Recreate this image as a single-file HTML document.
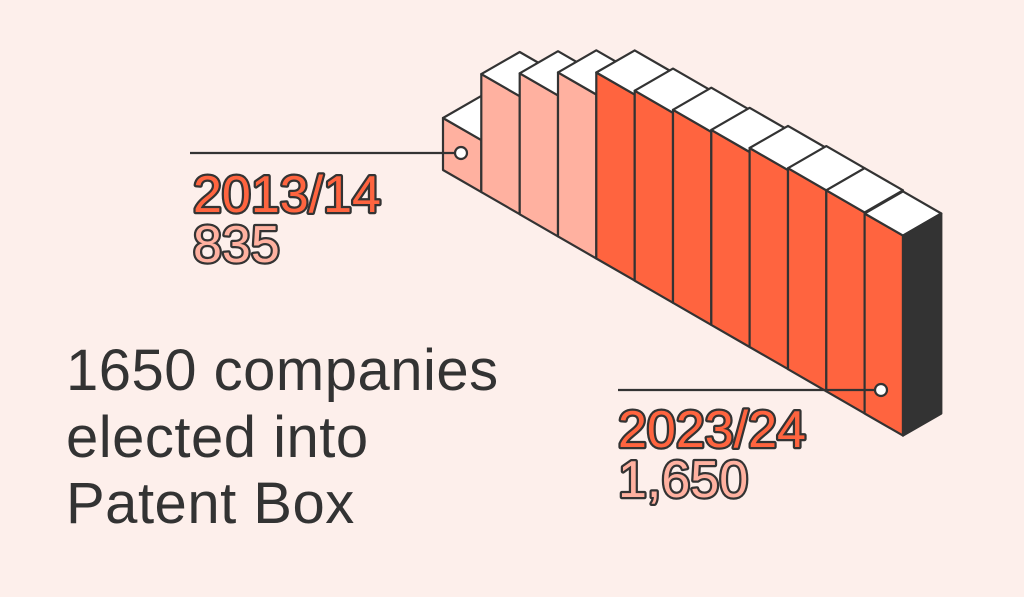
<!DOCTYPE html>
<html><head><meta charset="utf-8"><style>
html,body{margin:0;padding:0;background:#fdefeb;}
svg{display:block}
</style></head><body>
<svg width="1024" height="597" viewBox="0 0 1024 597" xmlns="http://www.w3.org/2000/svg">
<rect width="1024" height="597" fill="#fdefeb"/>
<g stroke="#333" stroke-width="2.2" stroke-linejoin="round">
<polygon fill="#ffb1a0" points="443,118 481.3,140.1 481.3,192.1 443,170"/><polygon fill="#fff" points="443,118 481.3,140.1 519.7,118 481.3,95.9"/>
<polygon fill="#ffb1a0" points="481.3,74.1 519.7,96.2 519.7,214.2 481.3,192.1"/><polygon fill="#fff" points="481.3,74.1 519.7,96.2 558,74.1 519.7,52"/>
<polygon fill="#ffb1a0" points="519.7,73.3 558,95.4 558,236.4 519.7,214.3"/><polygon fill="#fff" points="519.7,73.3 558,95.4 596.3,73.3 558,51.2"/>
<polygon fill="#ffb1a0" points="558,72.4 596.3,94.5 596.3,258.5 558,236.4"/><polygon fill="#fff" points="558,72.4 596.3,94.5 634.7,72.4 596.3,50.3"/>
<polygon fill="#ff643f" points="596.3,72.5 634.7,94.6 634.7,280.6 596.3,258.5"/><polygon fill="#fff" points="596.3,72.5 634.7,94.6 673,72.5 634.7,50.4"/>
<polygon fill="#ff643f" points="634.7,90.7 673,112.8 673,302.8 634.7,280.7"/><polygon fill="#fff" points="634.7,90.7 673,112.8 711.3,90.7 673,68.6"/>
<polygon fill="#ff643f" points="673,109.8 711.3,131.9 711.3,324.9 673,302.8"/><polygon fill="#fff" points="673,109.8 711.3,131.9 749.6,109.8 711.3,87.7"/>
<polygon fill="#ff643f" points="711.3,129.9 749.6,152 749.6,347 711.3,324.9"/><polygon fill="#fff" points="711.3,129.9 749.6,152 788,129.9 749.6,107.8"/>
<polygon fill="#ff643f" points="749.6,148 788,170.1 788,369.1 749.6,347"/><polygon fill="#fff" points="749.6,148 788,170.1 826.3,148 788,125.9"/>
<polygon fill="#ff643f" points="788,168.2 826.3,190.3 826.3,391.3 788,369.2"/><polygon fill="#fff" points="788,168.2 826.3,190.3 864.6,168.2 826.3,146.1"/>
<polygon fill="#ff643f" points="826.3,190.3 864.6,212.4 864.6,413.4 826.3,391.3"/><polygon fill="#fff" points="826.3,190.3 864.6,212.4 903,190.3 864.6,168.2"/>
<polygon fill="#ff643f" points="864.6,213.5 903,235.6 903,435.6 864.6,413.5"/><polygon fill="#fff" points="864.6,213.5 903,235.6 941.3,213.5 903,191.4"/>
<polygon fill="#333" points="903,235.6 941.3,213.5 941.3,413.5 903,435.6"/>
</g>
<g stroke="#333" stroke-width="2.2">
<line x1="190" y1="153" x2="455" y2="153"/>
<circle cx="461" cy="153" r="6" fill="#fff"/>
<line x1="618" y1="390" x2="875" y2="390"/>
<circle cx="881" cy="390" r="6" fill="#fff"/>
</g>
<g font-family="Liberation Sans, sans-serif" font-size="52" stroke="#333" stroke-width="4.5" paint-order="stroke" stroke-linejoin="round">
<text x="193" y="212" fill="#ff643f">2013/14</text>
<text x="193" y="262" fill="#ffb1a0">835</text>
<text x="618" y="447" fill="#ff643f">2023/24</text>
<text x="618" y="497" fill="#ffb1a0">1,650</text>
</g>
<g font-family="Liberation Sans, sans-serif" font-size="58" fill="#333" letter-spacing="0.5">
<text x="66" y="390">1650 companies</text>
<text x="66" y="457">elected into</text>
<text x="66" y="523">Patent Box</text>
</g>
</svg>
</body></html>
